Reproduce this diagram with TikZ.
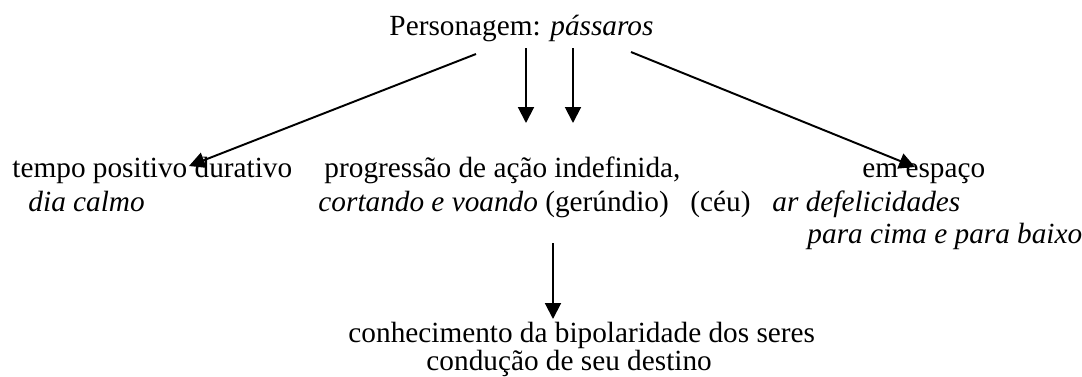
\documentclass[tikz,border=0pt]{standalone}
\usepackage{fontspec}
\setmainfont{Liberation Serif}
\usepackage{tikz}
\usetikzlibrary{arrows.meta, positioning, calc}

\begin{document}
\begin{tikzpicture}[
    x=0.41pt, y=-0.41pt,
    txt/.style={inner sep=0pt, anchor=base west, font=\fontsize{12}{14}\selectfont},
    arr/.style={-{Triangle[length=6.5pt, width=6.5pt]}, line width=0.8pt}
]
\useasboundingbox (0,0) rectangle (1082,376);

% Title
\node[txt] (title) at (389,35) {Personagem: \textit{pássaros}};

% Left branch
\node[txt] (tempo) at (12,177) {tempo positivo durativo};
\node[txt] (dia) at (28,211) {\textit{dia calmo}};

% Middle branch
\node[txt] (prog) at (324,177) {progressão de ação indefinida,};
\node[txt] (cort) at (318,211) {\textit{cortando e voando} (gerúndio)};
\node[txt] (ceu) at (690,211) {(céu)};

% Right branch
\node[txt] (espaco) at (862,177) {em espaço};
\node[txt] (ar) at (772,211) {\textit{ar defelicidades}};
\node[txt] (cima) at (807,243) {\textit{para cima e para baixo}};

% Bottom
\node[txt] (conh) at (348,342) {conhecimento da bipolaridade dos seres};
\node[txt] (cond) at (426,370) {condução de seu destino};

% Arrow ends
\coordinate (l0) at (476,54);
\coordinate (l1) at (189,166);
\coordinate (m0) at (526,48);
\coordinate (m1) at (526,123);
\coordinate (n0) at (573,48);
\coordinate (n1) at (573,123);
\coordinate (r0) at (631,52);
\coordinate (r1) at (915,167);
\coordinate (b0) at (553,243);
\coordinate (b1) at (553,319);

% Arrows
\draw[arr] (l0) -- (l1);
\draw[arr] (m0) -- (m1);
\draw[arr] (n0) -- (n1);
\draw[arr] (r0) -- (r1);
\draw[arr] (b0) -- (b1);

\end{tikzpicture}
\end{document}
